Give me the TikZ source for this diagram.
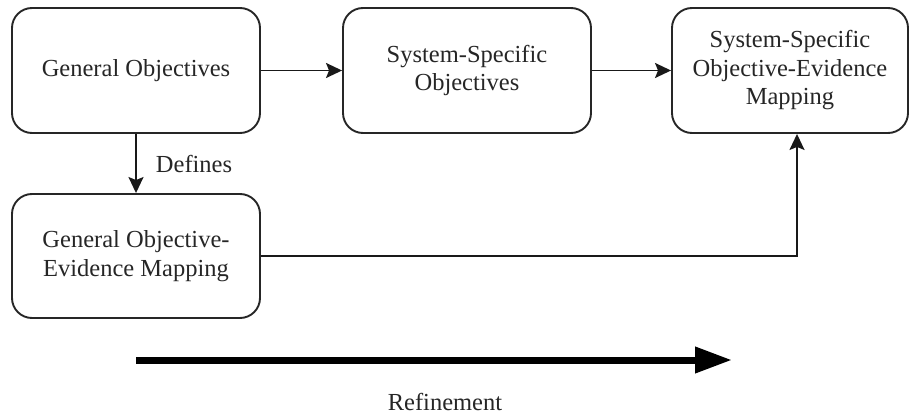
\documentclass[tikz,border=0pt]{standalone}
\usepackage{fontspec}
\setmainfont{Liberation Serif}
\usetikzlibrary{arrows.meta}
\begin{document}
\begin{tikzpicture}[x=1pt,y=-1pt,
  font=\fontsize{24.5}{28.5}\selectfont,
  textcol/.style={text=black!85},
  procbox/.style={draw=black!85, line width=1.9pt, rounded corners=20pt,
    minimum height=125pt, align=center, textcol, inner sep=0pt},
  link/.style={draw=black!90, line width=1.9pt,
    -{Stealth[length=16pt,width=15pt,inset=3pt]}},
  bigarrow/.style={draw=black, line width=7pt,
    -{Triangle[length=37pt,width=25pt]}}]
\useasboundingbox (0,0) rectangle (910,414);

\node[procbox, minimum width=248pt] (genobj) at (136,70.5) {General Objectives};
\node[procbox, minimum width=248pt] (sysobj) at (467,70.5) {System-Specific\\Objectives};
\node[procbox, minimum width=236pt] (sysmap) at (790,70.5) {System-Specific\\Objective-Evidence\\Mapping};
\node[procbox, minimum width=248pt, minimum height=124pt] (genmap) at (136,256) {General Objective-\\Evidence Mapping};

\coordinate (sysmapin) at ([xshift=7pt]sysmap.south);

\draw[link] (genobj) -- (sysobj);
\draw[link] (sysobj) -- (sysmap);
\draw[link] (genobj) -- node[right=19pt, inner sep=0pt, textcol] (defines) {Defines} (genmap);
\draw[link] (genmap.east) -| (sysmapin);

% refinement direction
\coordinate (refstart) at (136,360);
\coordinate (refend) at (732,360);
\draw[bigarrow] (refstart) -- (refend);
\node[textcol] (refine) at (445,402) {Refinement};
\end{tikzpicture}
\end{document}
